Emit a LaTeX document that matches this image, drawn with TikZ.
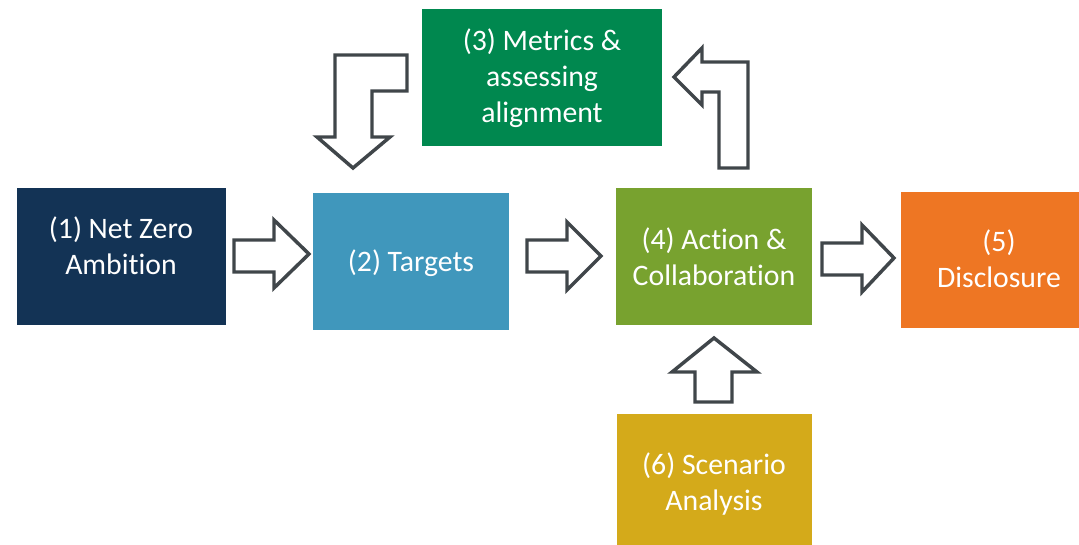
\documentclass[tikz,border=0pt]{standalone}
\usepackage{fontspec}
\setmainfont{Carlito}[Ligatures=NoCommon]
\begin{document}
\begin{tikzpicture}[x=0.75pt,y=-0.75pt,
  lbl/.style={text=white,align=center,inner sep=0pt,font=\fontsize{22.3}{27}\selectfont},
  flow/.style={draw=arrowgrey,line width=2.6pt,fill=white,line join=miter}]
\definecolor{navy}{HTML}{133355}
\definecolor{skyblue}{HTML}{4097BC}
\definecolor{teal}{HTML}{00884F}
\definecolor{leaf}{HTML}{78A22F}
\definecolor{amber}{HTML}{EE7623}
\definecolor{gold}{HTML}{D4AA1A}
\definecolor{arrowgrey}{HTML}{40464A}
\useasboundingbox (0,0) rectangle (1079,545);
% coloured boxes
\fill[navy]    (17,188)  rectangle (226,325);
\fill[skyblue] (313,193) rectangle (509,330);
\fill[teal]    (422,9)   rectangle (662,146);
\fill[leaf]    (616,188) rectangle (812,325);
\fill[amber]   (901,192) rectangle (1079,328);
\fill[gold]    (617,414) rectangle (812,545);
% labels
\node[lbl] (ambition) at (121,246) {(1) Net Zero\\Ambition};
\node[lbl] (targets) at (411,263) {(2) Targets};
\node[lbl] (metrics) at (542,78) {(3) Metrics \&\\assessing\\alignment};
\node[lbl] (action) at (714,257) {(4) Action \&\\Collaboration};
\node[lbl] (disclosure) at (999,259) {(5)\\Disclosure};
\node[lbl] (scenario) at (714,484) {(6) Scenario\\Analysis};
% straight block arrows
\draw[flow] (234,240) -- (274,240) -- (274,220) -- (309,254) -- (274,288) -- (274,272) -- (234,272) -- cycle;
\draw[flow] (527,240) -- (567,240) -- (567,222) -- (601,256) -- (567,290) -- (567,272) -- (527,272) -- cycle;
\draw[flow] (822,243) -- (862,243) -- (862,225) -- (894,258) -- (862,292) -- (862,275) -- (822,275) -- cycle;
% up arrow
\draw[flow] (695,402) -- (695,372) -- (672,372) -- (714,338) -- (757,372) -- (732,372) -- (732,402) -- cycle;
% bent arrow down
\draw[flow] (335,55) -- (407,55) -- (407,91) -- (372,91) -- (372,137) -- (390,137) -- (353,168) -- (317,137) -- (335,137) -- cycle;
% bent arrow up-left
\draw[flow] (719,168) -- (719,92) -- (702,92) -- (702,105) -- (674,77) -- (702,48) -- (702,62) -- (748,62) -- (748,168) -- cycle;
\end{tikzpicture}
\end{document}
